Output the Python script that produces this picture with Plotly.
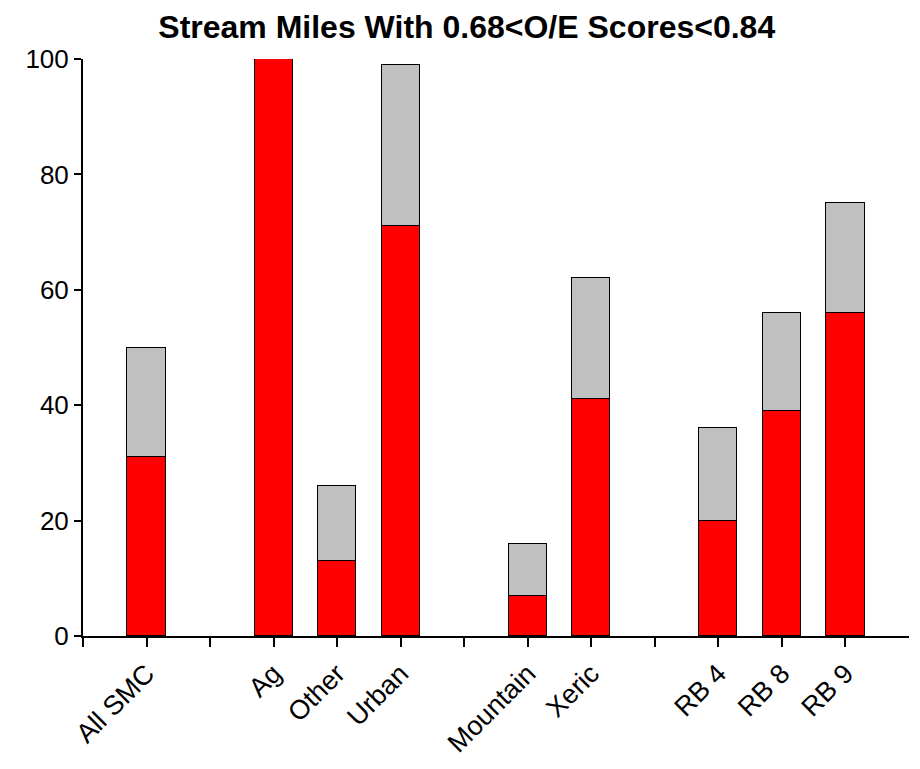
import plotly.graph_objects as go

categories = ["All SMC", "", "Ag", "Other", "Urban", "", "Mountain", "Xeric", "", "RB 4", "RB 8", "RB 9"]
red_values = [31, None, 100, 13, 71, None, 7, 41, None, 20, 39, 56]
total_values = [50, None, 100, 26, 99, None, 16, 62, None, 36, 56, 75]
grey_values = [None if r is None else t - r for r, t in zip(red_values, total_values)]
y_ticks = [0, 20, 40, 60, 80, 100]

xpos = list(range(len(categories)))

fig = go.Figure()
fig.add_trace(go.Bar(x=xpos, y=red_values, width=0.6, marker=dict(color="#FF0000", line=dict(color="black", width=1)), showlegend=False))
fig.add_trace(go.Bar(x=xpos, y=grey_values, width=0.6, marker=dict(color="#C0C0C0", line=dict(color="black", width=1)), showlegend=False))

fig.update_layout(
    barmode="stack",
    width=912, height=761,
    margin=dict(l=75, r=11, t=51, b=129),
    plot_bgcolor="white", paper_bgcolor="white",
    font=dict(family="Liberation Sans, Arial, sans-serif", color="black", size=26),
    title=dict(text="<b>Stream Miles With 0.68<O/E Scores<0.84</b>", x=0.503, xanchor="center", y=0.975, yanchor="middle",
               font=dict(size=32, family="Liberation Sans, Arial, sans-serif")),
    xaxis=dict(range=[-1, 12], tickmode="array", tickvals=[-1] + xpos, ticktext=[""] + categories,
               tickangle=-45, ticks="outside", ticklen=9, tickwidth=1.5, tickcolor="black",
               showline=True, linecolor="black", linewidth=2, showgrid=False, zeroline=False,
               tickfont=dict(size=27)),
    yaxis=dict(range=[0, 100], tickmode="array", tickvals=y_ticks, ticks="outside", ticklen=7, tickwidth=1.5,
               tickcolor="black", showline=True, linecolor="black", linewidth=2, showgrid=False, zeroline=False,
               tickfont=dict(size=26)),
    bargap=0,
)
fig.write_html("out.html")
